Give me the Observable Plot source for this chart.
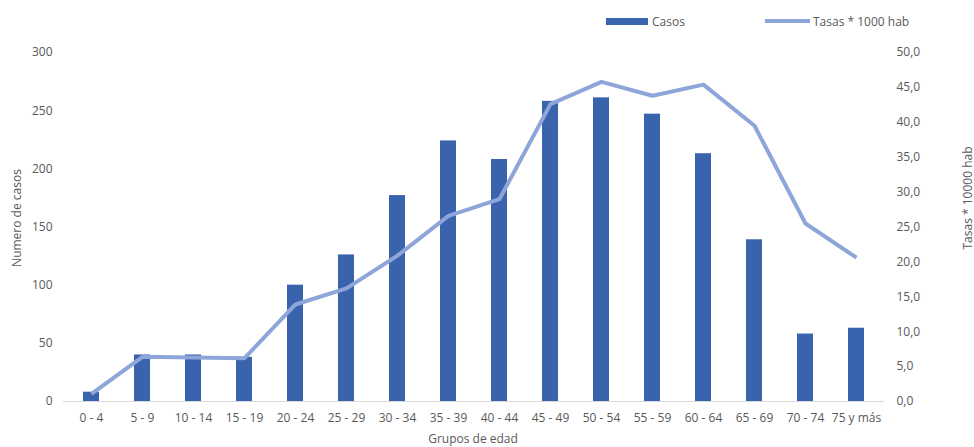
<!DOCTYPE html>
<html>
<head>
<meta charset="utf-8">
<script src="https://cdn.jsdelivr.net/npm/d3@7"></script>
<script src="https://cdn.jsdelivr.net/npm/@observablehq/plot@0.6"></script>
<style>
  body { margin: 0; background: #fff; }
  #wrap { position: relative; width: 974px; height: 447px; overflow: hidden; font-family: "Open Sans", sans-serif; color: #595959; }
  .t { position: absolute; font-size: 12px; white-space: nowrap; }
  .c { transform: translate(-50%, -50%); }
  .r { transform: translate(-50%, -50%) rotate(-90deg); }
  .l { transform: translateY(-50%); }
  .sw { position: absolute; }
</style>
</head>
<body>
<div id="wrap"></div>
<script>
const grupos = ["0 - 4","5 - 9","10 - 14","15 - 19","20 - 24","25 - 29","30 - 34","35 - 39","40 - 44","45 - 49","50 - 54","55 - 59","60 - 64","65 - 69","70 - 74","75 y más"];
const casos = [8, 40, 40, 38, 100, 126, 177, 224, 208, 258, 261, 247, 213, 139, 58, 63];
const tasas = [1.1, 6.4, 6.3, 6.2, 13.9, 16.2, 20.9, 26.6, 29.0, 42.6, 45.8, 43.8, 45.4, 39.5, 25.5, 20.6];
const leftTicks = [0, 50, 100, 150, 200, 250, 300];
const rightTicks = [0, 5, 10, 15, 20, 25, 30, 35, 40, 45, 50];
const legendLabels = ["Casos", "Tasas * 1000 hab"];

const barColor = "#3A63AD";
const lineColor = "#8EA5DA";
const k = 300 / 50; // right axis max maps to left axis max
const data = grupos.map((g, i) => ({grupo: g, casos: casos[i], tasa: tasas[i]}));

const chart = Plot.plot({
  width: 974,
  height: 447,
  marginTop: 52,
  marginBottom: 46,
  marginLeft: 63,
  marginRight: 90,
  style: {fontFamily: "Open Sans", fontSize: "12px", color: "#595959", background: "transparent"},
  x: {domain: grupos, paddingInner: 0.69, paddingOuter: 0.345, label: null},
  y: {domain: [0, 300], label: null},
  marks: [
    Plot.ruleY([0], {stroke: "#d9d9d9", strokeWidth: 1}),
    Plot.barY(data, {x: "grupo", y: "casos", fill: barColor}),
    Plot.line(data, {x: "grupo", y: d => d.tasa * k, stroke: lineColor, strokeWidth: 4, strokeLinejoin: "miter", strokeLinecap: "butt"}),
    Plot.axisY({anchor: "left", ticks: leftTicks, tickSize: 0, tickPadding: 11, label: null}),
    Plot.axisY({anchor: "right", ticks: rightTicks.map(v => v * k), tickFormat: d => (d / k).toFixed(1).replace(".", ","), tickSize: 0, tickPadding: 12, label: null}),
    Plot.axisX({tickSize: 0, tickPadding: 12, label: null})
  ]
});

const wrap = document.getElementById("wrap");
wrap.appendChild(chart);
chart.style.position = "absolute";
chart.style.left = "0";
chart.style.top = "0";

function addText(txt, x, y, cls) {
  const d = document.createElement("div");
  d.className = "t " + cls;
  d.style.left = x + "px";
  d.style.top = y + "px";
  d.textContent = txt;
  wrap.appendChild(d);
  return d;
}
function addSwatch(x, y, w, h, color) {
  const d = document.createElement("div");
  d.className = "sw";
  Object.assign(d.style, {left: x + "px", top: y + "px", width: w + "px", height: h + "px", background: color});
  wrap.appendChild(d);
  return d;
}

addText("Numero de casos", 16, 218, "r");
addText("Tasas * 10000 hab", 967, 198, "r");
addText("Grupos de edad", 473, 438, "c");

addSwatch(606, 18, 42, 7, barColor);
addText(legendLabels[0], 652, 21, "l");
addSwatch(765, 19, 45, 4, lineColor);
addText(legendLabels[1], 813, 21, "l");
</script>
</body>
</html>
